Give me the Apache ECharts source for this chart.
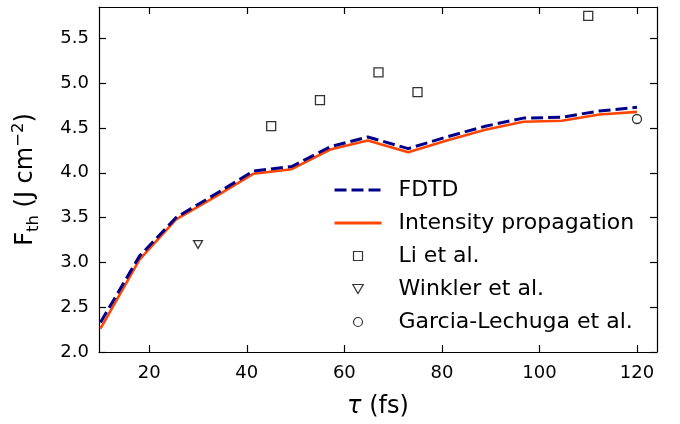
<!DOCTYPE html>
<html><head><meta charset="utf-8">
<script src="https://cdn.jsdelivr.net/npm/echarts@6/dist/echarts.min.js"></script>
<style>html,body{margin:0;padding:0;background:#fff}#c{width:680px;height:424px}</style>
</head><body><div id="c"></div>
<script>
var tau = [10, 18, 25.5, 33.5, 41.4, 49.2, 57.1, 64.8, 73.1, 81, 88.9, 96.7, 104.6, 112.3, 120];
var fdtd = [2.33, 3.07, 3.50, 3.76, 4.02, 4.07, 4.29, 4.40, 4.27, 4.40, 4.52, 4.61, 4.62, 4.69, 4.73];
var intensity = [2.26, 3.03, 3.48, 3.73, 3.99, 4.04, 4.26, 4.36, 4.23, 4.36, 4.48, 4.57, 4.58, 4.65, 4.68];
var liX = [45, 55, 67, 75, 110];
var liY = [4.52, 4.81, 5.12, 4.90, 5.75];
var winklerX = [30];
var winklerY = [3.20];
var garciaX = [120];
var garciaY = [4.60];
var xTicks = [20, 40, 60, 80, 100, 120];
var yTicks = [2.0, 2.5, 3.0, 3.5, 4.0, 4.5, 5.0, 5.5];

function pairs(xs, ys){ return xs.map(function(x,i){return [x, ys[i]];}); }
var FONT = 'DejaVu Sans';
var chart = echarts.init(document.getElementById('c'), null, {renderer:'canvas'});
var tickStyle = {show:true, inside:true, length:7, lineStyle:{color:'#000', width:1.2}};
var axLine = {show:true, onZero:false, lineStyle:{color:'#000', width:1.2}};
var XMIN = 9.7, XMAX = 124.1, YMIN = 2.0, YMAX = 5.85;
var square = 'path://M0,0L10,0L10,10L0,10Z';
var triDown = 'path://M0,0L10,0L5,8.66Z';
chart.setOption({
  animation:false,
  backgroundColor:'#fff',
  grid:{left:99, right:23, top:7, bottom:70},
  legend:{
    orient:'vertical', left:333, top:178, padding:0, itemWidth:47, itemHeight:9, itemGap:9, symbolKeepAspect:true,
    textStyle:{fontFamily:FONT, fontSize:22, color:'#000', lineHeight:24, padding:[0,0,0,12]},
    data:[
      {name:'FDTD', itemStyle:{opacity:0, color:'transparent', borderWidth:0}, lineStyle:{width:3, type:[12,5], color:'#00008B'}},
      {name:'Intensity propagation', itemStyle:{opacity:0, color:'transparent', borderWidth:0}, lineStyle:{width:3, color:'#FF4500'}},
      {name:'Li et al.', itemStyle:{borderWidth:1.2}},
      {name:'Winkler et al.', itemStyle:{borderWidth:1.2}},
      {name:'Garcia-Lechuga et al.', itemStyle:{borderWidth:1.2}}]
  },
  xAxis:[{
    type:'value', min:XMIN, max:XMAX, position:'bottom',
    axisLine:axLine, splitLine:{show:false},
    axisTick:Object.assign({customValues:xTicks}, tickStyle),
    axisLabel:{customValues:xTicks, fontFamily:FONT, fontSize:18, color:'#000', margin:12},
    name:'{i|τ} (fs)', nameLocation:'middle', nameGap:43,
    nameTextStyle:{fontFamily:FONT, fontSize:24, color:'#000', rich:{i:{fontFamily:FONT, fontSize:24, fontStyle:'italic', color:'#000'}}}
  },{
    type:'value', min:XMIN, max:XMAX, position:'top',
    axisLine:axLine, splitLine:{show:false},
    axisTick:Object.assign({customValues:xTicks}, tickStyle),
    axisLabel:{show:false}
  }],
  yAxis:[{
    type:'value', min:YMIN, max:YMAX, position:'left',
    axisLine:axLine, splitLine:{show:false},
    axisTick:Object.assign({customValues:yTicks}, tickStyle),
    axisLabel:{customValues:yTicks, fontFamily:FONT, fontSize:18, color:'#000', margin:10,
      formatter:function(v){return v.toFixed(1);}},
    name:'{a|F}{s|th}{a| (J cm}{p|−2}{a|)}', nameLocation:'middle', nameGap:57, nameRotate:90,
    nameTextStyle:{fontFamily:FONT, fontSize:24, color:'#000', rich:{
      a:{fontFamily:FONT, fontSize:24, color:'#000', lineHeight:32, verticalAlign:'middle'},
      s:{fontFamily:FONT, fontSize:16.5, color:'#000', lineHeight:32, verticalAlign:'bottom'},
      p:{fontFamily:FONT, fontSize:16.5, color:'#000', lineHeight:32, verticalAlign:'top'}
    }}
  },{
    type:'value', min:YMIN, max:YMAX, position:'right',
    axisLine:axLine, splitLine:{show:false},
    axisTick:Object.assign({customValues:yTicks}, tickStyle),
    axisLabel:{show:false}
  }],
  series:[{
    name:'FDTD', type:'line', data:pairs(tau, fdtd), symbol:'none', z:4,
    lineStyle:{color:'#00008B', width:3, type:[12,5]}, itemStyle:{color:'#00008B'}
  },{
    name:'Intensity propagation', type:'line', data:pairs(tau, intensity), symbol:'none', z:3,
    lineStyle:{color:'#FF4500', width:2.6}, itemStyle:{color:'#FF4500'}
  },{
    name:'Li et al.', type:'scatter', data:pairs(liX, liY), symbol:square, symbolSize:9, symbolKeepAspect:true, z:5,
    itemStyle:{color:'#fff', borderColor:'#000', borderWidth:1.3}
  },{
    name:'Winkler et al.', type:'scatter', data:pairs(winklerX, winklerY), symbol:triDown, symbolSize:9, symbolKeepAspect:true, z:5,
    itemStyle:{color:'#fff', borderColor:'#000', borderWidth:1.3}
  },{
    name:'Garcia-Lechuga et al.', type:'scatter', data:pairs(garciaX, garciaY), symbol:'circle', symbolSize:9, z:5,
    itemStyle:{color:'#fff', borderColor:'#000', borderWidth:1.3}
  }]
});
</script></body></html>
